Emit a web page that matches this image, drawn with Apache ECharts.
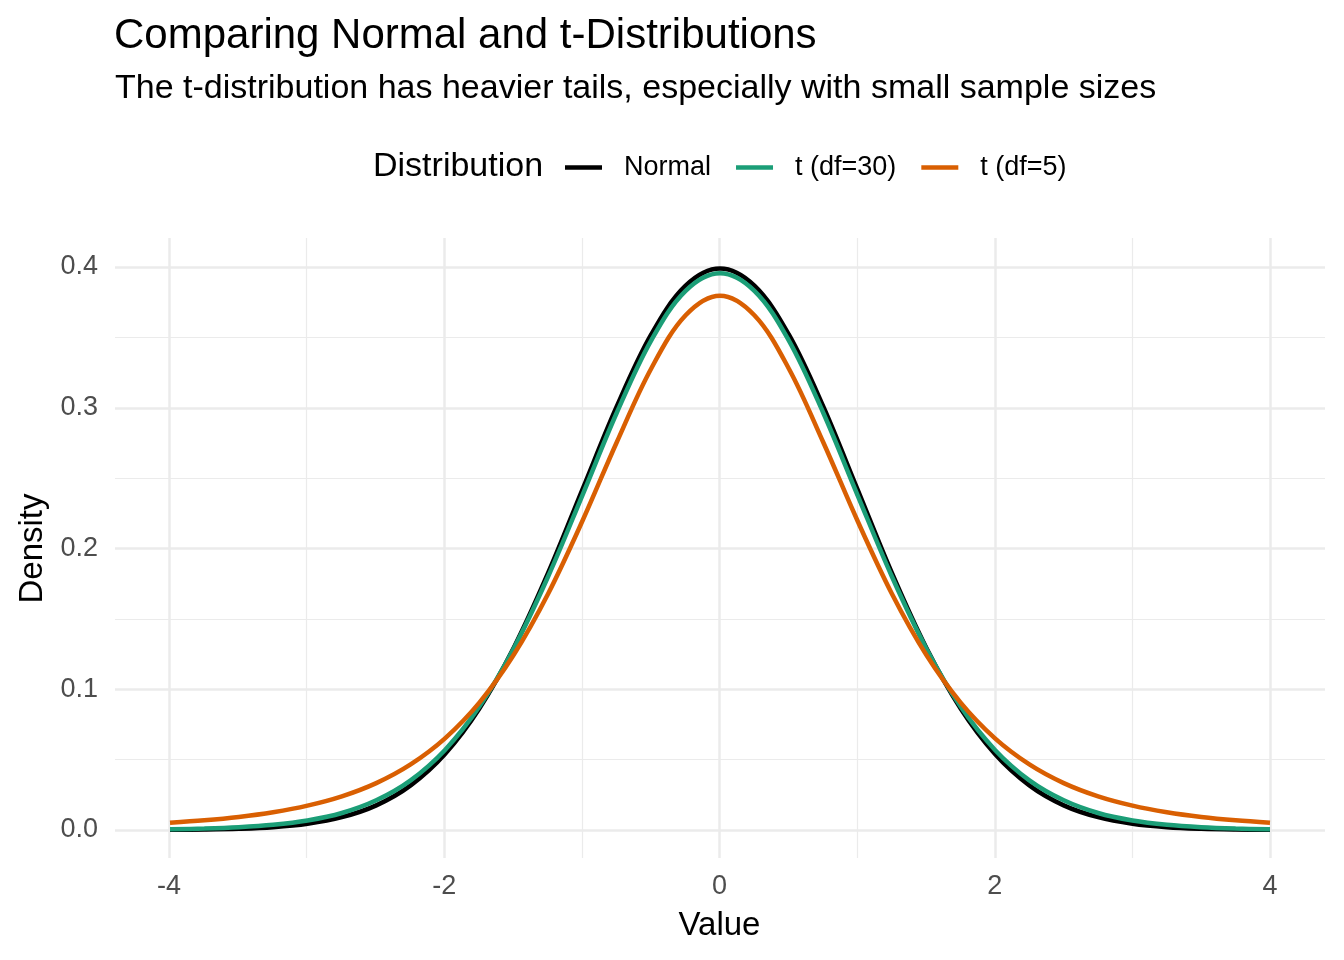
<!DOCTYPE html>
<html>
<head>
<meta charset="utf-8">
<script src="https://cdn.jsdelivr.net/npm/echarts@6/dist/echarts.min.js"></script>
<style>
html,body{margin:0;padding:0;background:#fff;}
#chart{width:1344px;height:960px;}
</style>
</head>
<body>
<div id="chart"></div>
<script>
// Data (density)
const xValues = [-4, -3.75, -3.5, -3.25, -3, -2.75, -2.5, -2.25, -2, -1.75, -1.5, -1.25, -1, -0.75, -0.5, -0.25, 0,
                 0.25, 0.5, 0.75, 1, 1.25, 1.5, 1.75, 2, 2.25, 2.5, 2.75, 3, 3.25, 3.5, 3.75, 4];
const normalDensity = [0.00013, 0.00035, 0.00087, 0.0020, 0.0044, 0.0091, 0.0175, 0.0317, 0.0540, 0.0863, 0.1295, 0.1826, 0.2420, 0.3011, 0.3521, 0.3867, 0.3989,
                       0.3867, 0.3521, 0.3011, 0.2420, 0.1826, 0.1295, 0.0863, 0.0540, 0.0317, 0.0175, 0.0091, 0.0044, 0.0020, 0.00087, 0.00035, 0.00013];
const t30Density = [0.00052, 0.00102, 0.00196, 0.00369, 0.00678, 0.0121, 0.0211, 0.0353, 0.0569, 0.0877, 0.1290, 0.1801, 0.2380, 0.2966, 0.3479, 0.3831, 0.3956,
                    0.3831, 0.3479, 0.2966, 0.2380, 0.1801, 0.1290, 0.0877, 0.0569, 0.0353, 0.0211, 0.0121, 0.00678, 0.00369, 0.00196, 0.00102, 0.00052];
const t5Density = [0.00512, 0.00685, 0.00924, 0.0126, 0.0173, 0.0239, 0.0333, 0.0466, 0.0651, 0.0905, 0.1245, 0.1679, 0.2197, 0.2757, 0.3279, 0.3657, 0.3796,
                   0.3657, 0.3279, 0.2757, 0.2197, 0.1679, 0.1245, 0.0905, 0.0651, 0.0466, 0.0333, 0.0239, 0.0173, 0.0126, 0.00924, 0.00685, 0.00512];
const seriesNames = ['Normal', 't (df=30)', 't (df=5)'];
const xTicks = [-4, -2, 0, 2, 4];
const yTicks = [0, 0.1, 0.2, 0.3, 0.4];

const FONT = '"Liberation Sans", Arial, sans-serif';
const colors = ['#000000', '#1B9E77', '#D95F02'];
const allY = [normalDensity, t30Density, t5Density];

const chart = echarts.init(document.getElementById('chart'), null, {renderer: 'canvas'});

const series = seriesNames.map((name, i) => ({
  name: name,
  type: 'line',
  xAxisIndex: 0,
  yAxisIndex: 0,
  data: xValues.map((x, j) => [x, allY[i][j]]),
  smooth: 0.35,
  showSymbol: false,
  symbol: 'none',
  clip: false,
  lineStyle: {width: 4.5, color: colors[i], cap: 'butt'},
  itemStyle: {color: colors[i]},
  z: 10 + i
}));

const option = {
  backgroundColor: '#ffffff',
  animation: false,
  color: colors,
  title: [
    {text: 'Comparing Normal and t-Distributions', left: 114, top: 15, padding: 0,
     textStyle: {fontFamily: FONT, fontSize: 42, fontWeight: 'normal', color: '#000'}},
    {text: 'The t-distribution has heavier tails, especially with small sample sizes', left: 115, top: 72, padding: 0,
     textStyle: {fontFamily: FONT, fontSize: 34, fontWeight: 'normal', color: '#000'}}
  ],
  legend: {
    data: seriesNames,
    left: 565,
    top: 154,
    padding: 0,
    icon: 'rect',
    itemWidth: 37,
    itemHeight: 4.5,
    itemGap: 25,
    textStyle: {fontFamily: FONT, fontSize: 27, color: '#000', padding: [0, 0, 0, 17]}
  },
  graphic: [
    {type: 'text', left: 373, top: 150,
     style: {text: 'Distribution', font: '34px ' + FONT, fill: '#000'}}
  ],
  grid: [
    // grid 0: data and horizontal grid lines (y from 0 to 0.4)
    {left: 115, right: 19, top: 267, bottom: 130, containLabel: false},
    // grid 1: vertical grid lines and x labels (x from -4 to 4), full panel height
    {left: 169, right: 74, top: 238, bottom: 102, containLabel: false}
  ],
  xAxis: [
    {gridIndex: 0, type: 'value', min: -4.4, max: 4.4, show: false},
    {gridIndex: 1, type: 'value', min: xTicks[0], max: xTicks[xTicks.length - 1], interval: 2,
     name: 'Value', nameLocation: 'middle', nameGap: 51,
     nameTextStyle: {fontFamily: FONT, fontSize: 33, color: '#000'},
     axisLine: {show: false}, axisTick: {show: false},
     axisLabel: {fontFamily: FONT, fontSize: 27, color: '#4D4D4D', margin: 15},
     splitLine: {show: true, lineStyle: {color: '#EBEBEB', width: 2.5}},
     minorTick: {show: false, splitNumber: 2},
     minorSplitLine: {show: true, lineStyle: {color: '#EBEBEB', width: 1.2}}
    }
  ],
  yAxis: [
    {gridIndex: 0, type: 'value', min: yTicks[0], max: yTicks[yTicks.length - 1], interval: 0.1,
     name: 'Density', nameLocation: 'middle', nameGap: 66, nameRotate: 90,
     nameTextStyle: {fontFamily: FONT, fontSize: 33, color: '#000'},
     axisLine: {show: false}, axisTick: {show: false},
     axisLabel: {fontFamily: FONT, fontSize: 27, color: '#4D4D4D', margin: 17, padding: [4, 0, 0, 0],
                 formatter: v => v.toFixed(1)},
     splitLine: {show: true, lineStyle: {color: '#EBEBEB', width: 2.5}},
     minorTick: {show: false, splitNumber: 2},
     minorSplitLine: {show: true, lineStyle: {color: '#EBEBEB', width: 1.2}}
    },
    {gridIndex: 1, type: 'value', min: 0, max: 1, show: false}
  ],
  series: series
};
chart.setOption(option);
</script>
</body>
</html>
